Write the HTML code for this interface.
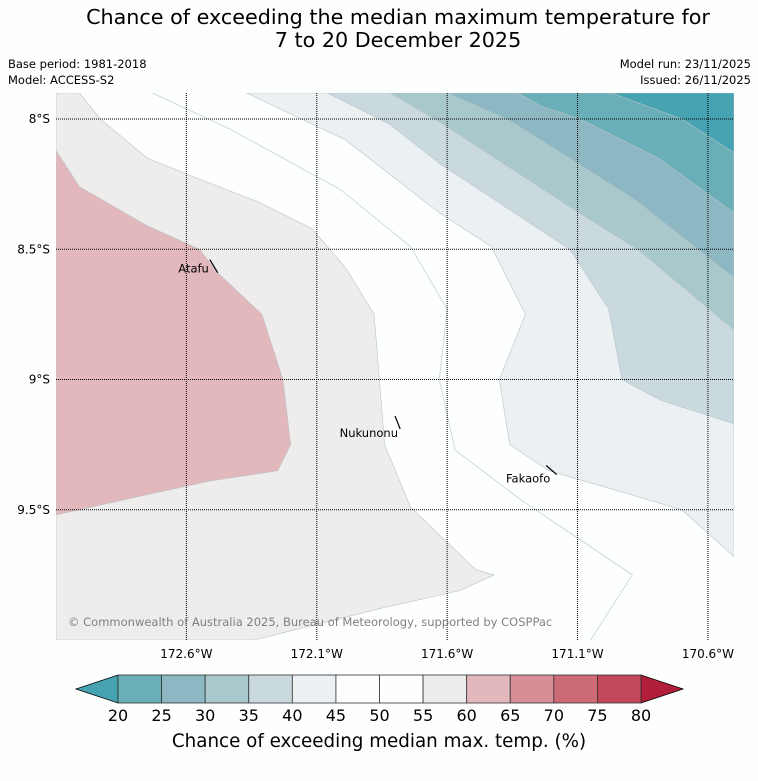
<!DOCTYPE html>
<html><head><meta charset="utf-8">
<style>
body{margin:0;background:#fdfefe;font-family:"DejaVu Sans","Liberation Sans",sans-serif;}
#wrap{position:relative;width:758px;height:781px;overflow:hidden;background:#fdfefe;}
svg text{font-family:"DejaVu Sans","Liberation Sans",sans-serif;}
</style></head>
<body>
<div id="wrap">
<svg id="svg" width="758" height="781" xmlns="http://www.w3.org/2000/svg">
<text x="398" y="24" font-size="20.7" text-anchor="middle" fill="#000">Chance of exceeding the median maximum temperature for</text>
<text x="398" y="47" font-size="20.7" text-anchor="middle" fill="#000">7 to 20 December 2025</text>
<text x="8" y="68" font-size="11.5">Base period: 1981-2018</text>
<text x="8" y="84" font-size="11.5">Model: ACCESS-S2</text>
<text x="751" y="68" font-size="11.5" text-anchor="end">Model run: 23/11/2025</text>
<text x="751" y="84" font-size="11.5" text-anchor="end">Issued: 26/11/2025</text>
<defs><clipPath id="mapclip"><rect x="56" y="93" width="678" height="547"/></clipPath></defs>
<g id="map" clip-path="url(#mapclip)"></g>
<g id="grid"></g>
<g id="places"></g>
<g id="ticks"></g>
<text x="68" y="626" font-size="11.5" fill="#808080">© Commonwealth of Australia 2025, Bureau of Meteorology, supported by COSPPac</text>
<g id="cbar"></g>
<text x="379" y="747" font-size="18.3" text-anchor="middle">Chance of exceeding median max. temp. (%)</text>
</svg>
</div>
<script>
// Map extent & data
const lonMin=-173.1, lonMax=-170.5, latMax=-7.9, latMin=-10.0;
const lonTicks=[-172.6,-172.1,-171.6,-171.1,-170.6];
const lonTickLabels=["172.6°W","172.1°W","171.6°W","171.1°W","170.6°W"];
const latTicks=[-8,-8.5,-9,-9.5];
const latTickLabels=["8°S","8.5°S","9°S","9.5°S"];
const levels=[20,25,30,35,40,45,50,55,60,65,70,75,80];
const levelColors=["#6aafb8","#8db7c3","#a8c8cb","#c9d9de","#ebf0f3","#fdfefe","#fdfefe","#efecec","#e2b8bd","#d78e96","#cc6a75","#c04858"];
const underColor="#47a2b2", overColor="#b01e3a";
// contour polygons [lon,lat]
const contour55=[[-173.1,-7.9],[-173.01,-7.9],[-172.93,-8.0],[-172.75,-8.15],[-172.55,-8.23],[-172.32,-8.32],[-172.12,-8.42],[-171.99,-8.57],[-171.88,-8.75],[-171.86,-9.0],[-171.84,-9.25],[-171.74,-9.49],[-171.49,-9.73],[-171.42,-9.75],[-171.55,-9.81],[-171.86,-9.88],[-172.34,-10.0],[-173.1,-10.0]];
const contour60=[[-173.1,-8.12],[-173.01,-8.26],[-172.75,-8.41],[-172.55,-8.5],[-172.48,-8.59],[-172.31,-8.75],[-172.23,-9.0],[-172.2,-9.25],[-172.25,-9.35],[-172.51,-9.39],[-172.74,-9.44],[-173.1,-9.52]];
const contour45=[[-172.37,-7.9],[-171.99,-8.08],[-171.63,-8.36],[-171.43,-8.49],[-171.3,-8.75],[-171.4,-9.0],[-171.36,-9.25],[-171.21,-9.35],[-170.97,-9.42],[-170.7,-9.5],[-170.5,-9.68],[-170.5,-7.9]];
const contour40=[[-172.06,-7.9],[-171.82,-8.02],[-171.63,-8.17],[-171.13,-8.5],[-170.98,-8.73],[-170.93,-9.0],[-170.78,-9.08],[-170.5,-9.17],[-170.5,-7.9]];
const contour35=[[-171.82,-7.9],[-171.63,-8.01],[-171.11,-8.35],[-170.87,-8.5],[-170.5,-8.81],[-170.5,-7.9]];
const contour30=[[-171.6,-7.9],[-171.37,-8.0],[-171.1,-8.17],[-170.88,-8.31],[-170.5,-8.61],[-170.5,-7.9]];
const contour25=[[-171.33,-7.9],[-171.24,-7.95],[-171.09,-8.0],[-170.79,-8.15],[-170.5,-8.36],[-170.5,-7.9]];
const contour20=[[-170.97,-7.9],[-170.7,-8.0],[-170.5,-8.13],[-170.5,-7.9]];
const contour50=[[-172.73,-7.9],[-172.43,-8.04],[-172.01,-8.27],[-171.74,-8.49],[-171.6,-8.73],[-171.63,-9.0],[-171.57,-9.27],[-171.32,-9.46],[-170.89,-9.75],[-171.05,-10.0]];
const placeNames=["Atafu","Nukunonu","Fakaofo"];
const placeIsland=[[[-172.51,-8.54],[-172.48,-8.59]],[[-171.8,-9.14],[-171.78,-9.19]],[[-171.22,-9.33],[-171.18,-9.365]]];

const X0=56,X1=734,Y0=93,Y1=640;
const px=lon=>X0+(lon-lonMin)/(lonMax-lonMin)*(X1-X0);
const py=lat=>Y0+(latMax-lat)/(latMax-latMin)*(Y1-Y0);
const NS="http://www.w3.org/2000/svg";
function mk(tag,attrs,parent){const e=document.createElementNS(NS,tag);for(const k in attrs)e.setAttribute(k,attrs[k]);parent.appendChild(e);return e;}
const pts=a=>a.map(p=>px(p[0]).toFixed(1)+","+py(p[1]).toFixed(1)).join(" ");
const map=document.getElementById("map");
const bg=mk("rect",{x:X0,y:Y0,width:X1-X0,height:Y1-Y0,fill:"#fdfefe"},map);


const fills=[[contour55,"#efecec","contour-55-60"],[contour60,"#e2b8bd","contour-60-65"],[contour45,"#ebf0f3","contour-40-45"],[contour40,"#c9d9de","contour-35-40"],[contour35,"#a8c8cb","contour-30-35"],[contour30,"#8db7c3","contour-25-30"],[contour25,"#6aafb8","contour-20-25"],[contour20,"#47a2b2","contour-below-20"]];
fills.forEach(f=>{
  const p=mk("polygon",{points:pts(f[0]),fill:f[1],stroke:"#b8c4c8","stroke-width":0.6},map);
  
  
});
const l50=mk("polyline",{points:pts(contour50),fill:"none",stroke:"#c0ccd0","stroke-width":0.7},map);



const grid=document.getElementById("grid"), ticks=document.getElementById("ticks");
lonTicks.forEach((lon,i)=>{
  const l=mk("line",{x1:px(lon),x2:px(lon),y1:Y0,y2:Y1,stroke:"#000","stroke-width":1,"stroke-dasharray":"1,1"},grid);
  
  
  const t=mk("text",{x:px(lon),y:658,"font-size":12,"text-anchor":"middle"},ticks);
  t.textContent=lonTickLabels[i];
  
  
});
latTicks.forEach((lat,i)=>{
  const l=mk("line",{x1:X0,x2:X1,y1:py(lat),y2:py(lat),stroke:"#000","stroke-width":1,"stroke-dasharray":"1,1"},grid);
  
  
  const t=mk("text",{x:50,y:py(lat)+4,"font-size":12,"text-anchor":"end"},ticks);
  t.textContent=latTickLabels[i];
  
  
});
const places=document.getElementById("places");
const labelPos=[[-1,13],[3,21],[4,17]];
placeNames.forEach((n,i)=>{
  const s=placeIsland[i];
  const l=mk("polyline",{points:pts(s),fill:"none",stroke:"#000","stroke-width":1.2},places);
  
  
  const t=mk("text",{x:px(s[0][0])+labelPos[i][0],y:py(s[0][1])+labelPos[i][1],"font-size":11.5,"text-anchor":"end"},places);
  t.textContent=n;
  
  
});
// colorbar
const cb=document.getElementById("cbar");
const CB0=118,CB1=641,CT=675,CBt=703;
const cx=v=>CB0+(v-levels[0])/(levels[levels.length-1]-levels[0])*(CB1-CB0);
const under=mk("polygon",{points:`${CB0},${CT} ${CB0},${CBt} 76,689`,fill:underColor,stroke:"#000","stroke-width":0.8},cb);


const over=mk("polygon",{points:`${CB1},${CT} ${CB1},${CBt} 683,689`,fill:overColor,stroke:"#000","stroke-width":0.8},cb);


levelColors.forEach((c,i)=>{
  const r=mk("rect",{x:cx(levels[i]),y:CT,width:cx(levels[i+1])-cx(levels[i]),height:CBt-CT,fill:c,stroke:"#333","stroke-width":0.8},cb);
  
  
});
levels.forEach(v=>{
  const t=mk("text",{x:cx(v),y:721,"font-size":16,"text-anchor":"middle"},cb);
  t.textContent=v;
  
  
});
</script>
</body></html>
